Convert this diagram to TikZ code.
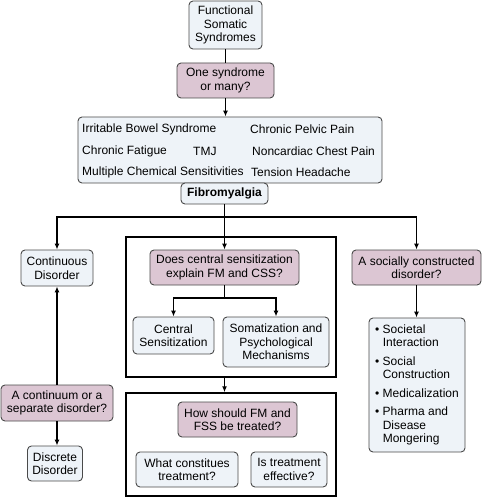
\documentclass[tikz,border=0pt]{standalone}
\usepackage{fontspec}
\setmainfont{Liberation Sans}
\usetikzlibrary{arrows.meta}
\definecolor{pinkq}{HTML}{DCC6D3}
\definecolor{bluebox}{HTML}{EEF3F8}
\definecolor{edgec}{HTML}{4A4A4A}
\begin{document}
\begin{tikzpicture}[x=1pt,y=-1pt,
  txt/.style={font=\fontsize{12}{13.5}\selectfont},
  bbox/.style={draw=edgec, line width=0.9pt, rounded corners=4pt, fill=bluebox, inner sep=0pt, align=center, txt},
  qbox/.style={bbox, fill=pinkq},
  frame/.style={draw=black, line width=1.5pt, inner sep=0pt},
  conn/.style={line width=1.3pt, draw=black},
  arr/.style={conn, -{Latex[length=6pt,width=5pt]}}]
\useasboundingbox (0,0) rectangle (482,497);
% boxes
\node[bbox, minimum width=73pt, minimum height=48pt] (fss) at (225.5,25) {Functional\\Somatic\\Syndromes};
\node[qbox, minimum width=97pt, minimum height=35pt] (one) at (225.5,80.5) {One syndrome\\or many?};
\node[bbox, minimum width=304pt, minimum height=66pt] (list) at (230,150) {};
\node[txt, anchor=west, inner sep=0pt] (ibs) at (82,129.5) {Irritable Bowel Syndrome};
\node[txt, anchor=west, inner sep=0pt] (cpp) at (250,129.5) {Chronic Pelvic Pain};
\node[txt, anchor=west, inner sep=0pt] (cf) at (82,151) {Chronic Fatigue};
\node[txt, anchor=west, inner sep=0pt] (tmj) at (193,151) {TMJ};
\node[txt, anchor=west, inner sep=0pt] (ncp) at (252,151) {Noncardiac Chest Pain};
\node[txt, anchor=west, inner sep=0pt] (mcs) at (82,172) {Multiple Chemical Sensitivities};
\node[txt, anchor=west, inner sep=0pt] (th) at (251,172) {Tension Headache};
\node[bbox, minimum width=87pt, minimum height=21pt, font=\fontsize{12}{13.5}\selectfont\bfseries] (fibro) at (224.5,193.5) {Fibromyalgia};
\node[frame, minimum width=210pt, minimum height=140pt] (mid) at (231,307) {};
\node[frame, minimum width=210pt, minimum height=103pt] (low) at (231,444.5) {};
\node[bbox, minimum width=72pt, minimum height=36pt] (cont) at (57,268) {Continuous\\Disorder};
\node[qbox, minimum width=149pt, minimum height=35pt] (does) at (224.5,267.5) {Does central sensitization\\explain FM and CSS?};
\node[qbox, minimum width=129pt, minimum height=35pt] (soc) at (416.5,267.5) {A socially constructed\\disorder?};
\node[bbox, minimum width=81pt, minimum height=37pt] (cs) at (173.5,335.5) {Central\\Sensitization};
\node[bbox, minimum width=106pt, minimum height=50pt] (som) at (276,342) {Somatization and\\Psychological\\Mechanisms};
\node[bbox, minimum width=96pt, minimum height=134pt, align=left] (bul) at (417,385) {\textbullet\ Societal\\\phantom{\textbullet\ }Interaction\\[5pt]\textbullet\ Social\\\phantom{\textbullet\ }Construction\\[5pt]\textbullet\ Medicalization\\[5pt]\textbullet\ Pharma and\\\phantom{\textbullet\ }Disease\\\phantom{\textbullet\ }Mongering};
\node[qbox, minimum width=112pt, minimum height=36pt] (contq) at (57,403) {A continuum or a\\separate disorder?};
\node[bbox, minimum width=55pt, minimum height=35pt] (disc) at (55,463.5) {Discrete\\Disorder};
\node[qbox, minimum width=119pt, minimum height=35pt] (how) at (237.5,419.5) {How should FM and\\FSS be treated?};
\node[bbox, minimum width=102pt, minimum height=35pt] (what) at (187,469.5) {What constitues\\treatment?};
\node[bbox, minimum width=76pt, minimum height=35pt] (eff) at (289,469.5) {Is treatment\\effective?};
% junctions
\coordinate (j1) at (224.5,217);
\coordinate (j2) at (224.5,298);
% connectors
\draw[conn] (fss.south) -- (one.north);
\draw[arr] (one.south) -- (list.north -| one.south);
\draw[conn] (fibro.south) -- (j1);
\draw[arr] (j1) -| (cont.north);
\draw[arr] (j1) -| (soc.north);
\draw[arr] (j1) -- (does.north);
\draw[conn] (does.south) -- (j2);
\draw[arr] (j2) -| (cs.north);
\draw[arr] (j2) -| (som.north);
\draw[arr] (soc.south) -- (bul.north -| soc.south);
\draw[arr] (contq.north) -- (cont.south -| contq.north);
\draw[arr] (contq.south) -- (disc.north -| contq.south);
\draw[arr] (mid.south -| j1) -- (low.north -| j1);
\end{tikzpicture}
\end{document}
